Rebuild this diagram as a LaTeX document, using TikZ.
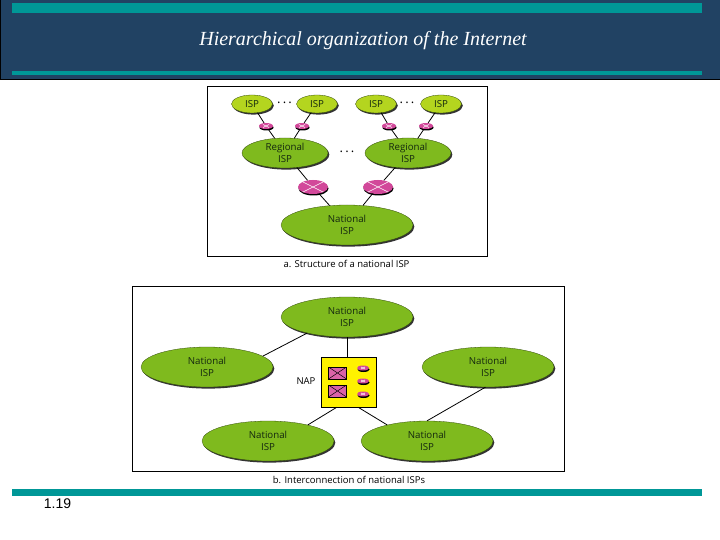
\documentclass[tikz,border=0pt]{standalone}
\usepackage{fontspec}
\setmainfont{Open Sans}
\newfontfamily\titlefont{Liberation Serif}
\newfontfamily\pagefont{Liberation Sans}
\usetikzlibrary{shapes.geometric,shadows}
\definecolor{headblue}{HTML}{214263}
\definecolor{barteal}{HTML}{009797}
\definecolor{leafgreen}{HTML}{7FBA1E}
\definecolor{limegreen}{HTML}{B4D51F}
\definecolor{rosepink}{HTML}{D2489A}
\definecolor{labelink}{HTML}{14280F}
\tikzset{
  x=1pt,y=-1pt,
  bar/.style={fill=barteal,draw=none},
  frame/.style={draw=black,line width=0.8pt,fill=white},
  link/.style={draw=black,line width=0.8pt},
  blob/.style={ellipse,inner sep=0pt,draw=black!60!leafgreen,line width=0.3pt,align=center,text=labelink,
    drop shadow={shadow xshift=1.3pt,shadow yshift=-1.6pt,fill=black!80,opacity=1}},
  natl/.style={blob,fill=leafgreen,minimum width=132pt,minimum height=40pt,font=\fontsize{9.7}{12}\selectfont},
  regn/.style={blob,fill=leafgreen,minimum width=86pt,minimum height=30pt,font=\fontsize{9.7}{12}\selectfont},
  locl/.style={blob,fill=limegreen,minimum width=41pt,minimum height=18pt,font=\fontsize{9.7}{12}\selectfont},
  router/.style={ellipse,inner sep=0pt,fill=rosepink,
    drop shadow={shadow xshift=0.5pt,shadow yshift=-1.5pt,fill=black,opacity=1},
    path picture={\draw[white,line width=0.6pt]
      (path picture bounding box.south west)++(4pt,1.5pt) -- ([xshift=-4pt,yshift=-1.5pt]path picture bounding box.north east)
      ([xshift=4pt,yshift=-1.5pt]path picture bounding box.north west) -- ([xshift=-4pt,yshift=1.5pt]path picture bounding box.south east);}},
  bigrouter/.style={router,minimum width=30pt,minimum height=14pt},
  smallrouter/.style={router,minimum width=14pt,minimum height=6pt},
  napoval/.style={router,minimum width=12pt,minimum height=5pt},
  napswitch/.style={rectangle,draw=black,line width=0.8pt,fill=rosepink!85!white,inner sep=0pt,minimum width=18pt,minimum height=12pt,
    path picture={\draw[black,line width=0.5pt]
      (path picture bounding box.south west) -- (path picture bounding box.north east)
      (path picture bounding box.north west) -- (path picture bounding box.south east);}},
  caption/.style={font=\fontsize{9.5}{11}\selectfont,text=black},
  dots/.style={font=\fontsize{13}{13}\selectfont,text=black,inner sep=0pt},
}
\begin{document}
\begin{tikzpicture}
\useasboundingbox (0,0) rectangle (720,540);
\fill[white] (0,0) rectangle (720,540);
% header
\fill[headblue] (0,0) rectangle (720,80);
\draw[black,line width=1pt] (0.5,0) -- (0.5,80) -- (720,80);
\path[bar] (12,3) rectangle (702,13);
\path[bar] (12,71) rectangle (702,75);
\node[text=white,font=\titlefont\itshape\fontsize{20}{22}\selectfont] (title) at (363,41) {Hierarchical organization of the Internet};
% footer
\path[bar] (12,489) rectangle (702,496);
\node[font=\pagefont\fontsize{14}{16}\selectfont,text=black] (pagenum) at (57.5,504) {1.19};

% part a
\node[frame,rectangle,minimum width=280pt,minimum height=170pt,inner sep=0pt] (framea) at (347,171) {};
\node[locl] (i1) at (252,104) {ISP};
\node[locl] (i2) at (317,104) {ISP};
\node[locl] (i3) at (376,104) {ISP};
\node[locl] (i4) at (441,104) {ISP};
\node[smallrouter] (s1) at (266,126) {};
\node[smallrouter] (s2) at (302,126) {};
\node[smallrouter] (s3) at (389,126) {};
\node[smallrouter] (s4) at (426,126) {};
\node[regn] (r1) at (285,153) {Regional\\ISP};
\node[regn] (r2) at (408,153) {Regional\\ISP};
\node[bigrouter] (b1) at (313,187) {};
\node[bigrouter] (b2) at (378,187) {};
\node[natl] (na) at (347,225) {National\\ISP};
\draw[link] (i1) -- (s1);
\draw[link] (i2) -- (s2);
\draw[link] (i3) -- (s3);
\draw[link] (i4) -- (s4);
\draw[link] (s1) -- (r1);
\draw[link] (s2) -- (r1);
\draw[link] (s3) -- (r2);
\draw[link] (s4) -- (r2);
\draw[link] (r1) -- (b1);
\draw[link] (r2) -- (b2);
\draw[link] (b1) -- (na);
\draw[link] (b2) -- (na);
\node[dots] (d1) at (284.5,103) {.\,.\,.};
\node[dots] (d2) at (407,103) {.\,.\,.};
\node[dots] (d3) at (347,152) {.\,.\,.};
\node[caption] (capa) at (346.5,264) {a. Structure of a national ISP};

% part b
\node[frame,rectangle,minimum width=432pt,minimum height=185pt,inner sep=0pt] (frameb) at (348,378.5) {};
\node[natl] (top) at (347,317) {National\\ISP};
\node[natl] (lft) at (207,367) {National\\ISP};
\node[natl] (rgt) at (488,367) {National\\ISP};
\node[natl] (bl) at (268,441) {National\\ISP};
\node[natl] (br) at (427,441) {National\\ISP};
\node[rectangle,draw=black,line width=0.6pt,fill=yellow,minimum width=55pt,minimum height=50pt,inner sep=0pt] (nap) at (348.5,382) {};
\node[napswitch] (w1) at (337.5,373) {};
\node[napswitch] (w2) at (337.5,391) {};
\node[napoval] (o1) at (363,368) {};
\node[napoval] (o2) at (363,381) {};
\node[napoval] (o3) at (363,394) {};
\node[font=\fontsize{9.5}{12}\selectfont,text=black,inner sep=0pt] (naplabel) at (306,381) {NAP};
\draw[link] (top.south) -- (top.south |- nap.north);
\draw[link] (top.202) -- (lft.11);
\draw[link] (rgt.263) -- (br.90);
\draw[link] (nap.245) -- (bl.22);
\draw[link] (nap.-69) -- (br.158);
\node[caption] (capb) at (349,479.5) {b. Interconnection of national ISPs};
\end{tikzpicture}
\end{document}
